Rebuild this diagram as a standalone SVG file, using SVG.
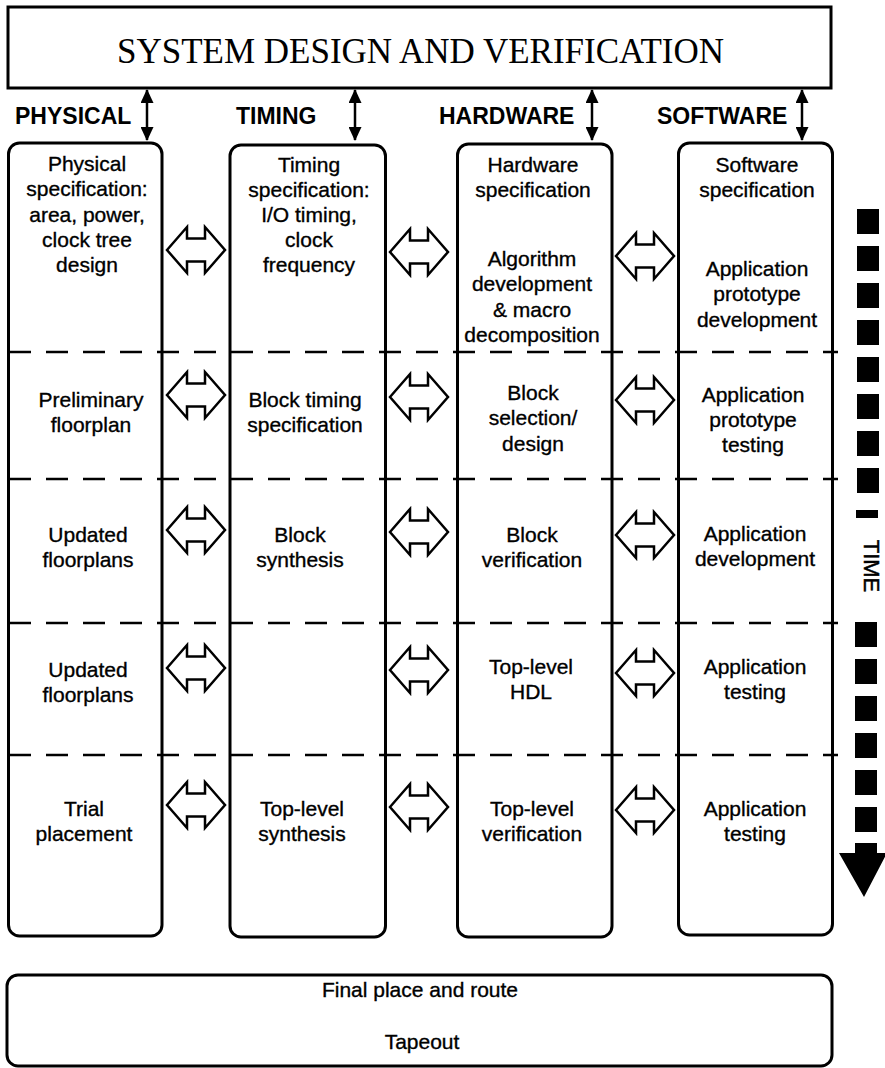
<svg xmlns="http://www.w3.org/2000/svg" xmlns:xlink="http://www.w3.org/1999/xlink" width="885" height="1068" viewBox="0 0 885 1068">
  <style>
    .box { fill: #fff; stroke: #000; stroke-width: 3; }
    .col { fill: #fff; stroke: #000; stroke-width: 3; }
    .dash { stroke: #000; stroke-width: 2.5; stroke-dasharray: 22 15; fill: none; }
    .vlink { stroke: #000; stroke-width: 2.5; fill: none; }
    .t { font-family: "Liberation Sans", Arial, sans-serif; font-size: 21px; fill: #000; stroke: #000; stroke-width: 0.35; text-anchor: middle; }
    .head { font-family: "Liberation Sans", Arial, sans-serif; font-size: 23px; font-weight: bold; fill: #000; }
    .title { font-family: "Liberation Serif", "Times New Roman", serif; font-size: 35px; fill: #000; text-anchor: middle; }
    .dbl { fill: #fff; stroke: #000; stroke-width: 2.5; stroke-linejoin: miter; }
    .sq { fill: #000; }
  </style>
  <defs>
    <!-- hollow two-way block arrow, centred on the origin -->
    <path id="dbl" class="dbl" d="M-29,0 L-9,-23 L-9,-11.5 L9,-11.5 L9,-23 L29,0 L9,23 L9,11.5 L-9,11.5 L-9,23 Z"/>
    <marker id="ah" viewBox="0 0 14 13" refX="13" refY="6.5" markerWidth="14" markerHeight="13" markerUnits="userSpaceOnUse" orient="auto-start-reverse">
      <path d="M0,0 L14,6.5 L0,13 Z" fill="#000"/>
    </marker>
  </defs>

  <!-- top system box -->
  <g id="system">
    <rect class="box" x="8" y="7" width="823" height="81"/>
    <text class="title" x="420.5" y="63">SYSTEM DESIGN AND VERIFICATION</text>
  </g>

  <!-- column headings -->
  <g id="headings">
    <text class="head" x="15" y="124">PHYSICAL</text>
    <text class="head" x="236" y="124">TIMING</text>
    <text class="head" x="439" y="124">HARDWARE</text>
    <text class="head" x="657" y="124">SOFTWARE</text>
  </g>

  <!-- columns -->
  <g id="physical">
    <rect class="col" x="8.5" y="143" width="153.5" height="793" rx="11"/>
    <text class="t" x="87" y="171">Physical</text>
    <text class="t" x="87" y="196">specification:</text>
    <text class="t" x="87" y="222">area, power,</text>
    <text class="t" x="87" y="247">clock tree</text>
    <text class="t" x="87" y="272">design</text>
    <text class="t" x="91" y="407">Preliminary</text>
    <text class="t" x="91" y="432">floorplan</text>
    <text class="t" x="88" y="542">Updated</text>
    <text class="t" x="88" y="567">floorplans</text>
    <text class="t" x="88" y="677">Updated</text>
    <text class="t" x="88" y="702">floorplans</text>
    <text class="t" x="84" y="816">Trial</text>
    <text class="t" x="84" y="841">placement</text>
  </g>

  <g id="timing">
    <rect class="col" x="230" y="145" width="155.5" height="792" rx="11"/>
    <text class="t" x="309" y="172">Timing</text>
    <text class="t" x="309" y="197">specification:</text>
    <text class="t" x="309" y="222">I/O timing,</text>
    <text class="t" x="309" y="247">clock</text>
    <text class="t" x="309" y="272">frequency</text>
    <text class="t" x="305" y="407">Block timing</text>
    <text class="t" x="305" y="432">specification</text>
    <text class="t" x="300" y="542">Block</text>
    <text class="t" x="300" y="567">synthesis</text>
    <text class="t" x="302" y="816">Top-level</text>
    <text class="t" x="302" y="841">synthesis</text>
  </g>

  <g id="hardware">
    <rect class="col" x="457.5" y="144" width="154.5" height="793" rx="11"/>
    <text class="t" x="533" y="172">Hardware</text>
    <text class="t" x="533" y="197">specification</text>
    <text class="t" x="532" y="266">Algorithm</text>
    <text class="t" x="532" y="291">development</text>
    <text class="t" x="532" y="317">&amp; macro</text>
    <text class="t" x="532" y="342">decomposition</text>
    <text class="t" x="533" y="400">Block</text>
    <text class="t" x="533" y="425">selection/</text>
    <text class="t" x="533" y="451">design</text>
    <text class="t" x="532" y="542">Block</text>
    <text class="t" x="532" y="567">verification</text>
    <text class="t" x="531" y="674">Top-level</text>
    <text class="t" x="531" y="699">HDL</text>
    <text class="t" x="532" y="816">Top-level</text>
    <text class="t" x="532" y="841">verification</text>
  </g>

  <g id="software">
    <rect class="col" x="678.5" y="143" width="154" height="792" rx="11"/>
    <text class="t" x="757" y="172">Software</text>
    <text class="t" x="757" y="197">specification</text>
    <text class="t" x="757" y="276">Application</text>
    <text class="t" x="757" y="301">prototype</text>
    <text class="t" x="757" y="327">development</text>
    <text class="t" x="753" y="402">Application</text>
    <text class="t" x="753" y="427">prototype</text>
    <text class="t" x="753" y="452">testing</text>
    <text class="t" x="755" y="541">Application</text>
    <text class="t" x="755" y="566">development</text>
    <text class="t" x="755" y="674">Application</text>
    <text class="t" x="755" y="699">testing</text>
    <text class="t" x="755" y="816">Application</text>
    <text class="t" x="755" y="841">testing</text>
  </g>

  <!-- phase separators -->
  <g id="phases">
    <line class="dash" x1="9" y1="352" x2="838" y2="352"/>
    <line class="dash" x1="9" y1="479" x2="838" y2="479"/>
    <line class="dash" x1="9" y1="623" x2="838" y2="623"/>
    <line class="dash" x1="9" y1="755" x2="838" y2="755"/>
  </g>

  <!-- connectors -->
  <g id="connectors">
    <line class="vlink" x1="147" y1="90" x2="147" y2="140" marker-start="url(#ah)" marker-end="url(#ah)"/>
    <line class="vlink" x1="355" y1="90" x2="355" y2="140" marker-start="url(#ah)" marker-end="url(#ah)"/>
    <line class="vlink" x1="592" y1="90" x2="592" y2="140" marker-start="url(#ah)" marker-end="url(#ah)"/>
    <line class="vlink" x1="802" y1="90" x2="802" y2="140" marker-start="url(#ah)" marker-end="url(#ah)"/>

    <use xlink:href="#dbl" x="196" y="250"/>
    <use xlink:href="#dbl" x="419" y="252"/>
    <use xlink:href="#dbl" x="645" y="256"/>
    <use xlink:href="#dbl" x="196" y="395"/>
    <use xlink:href="#dbl" x="419" y="397"/>
    <use xlink:href="#dbl" x="645" y="400"/>
    <use xlink:href="#dbl" x="196" y="530"/>
    <use xlink:href="#dbl" x="419" y="532"/>
    <use xlink:href="#dbl" x="645" y="535"/>
    <use xlink:href="#dbl" x="196" y="668"/>
    <use xlink:href="#dbl" x="419" y="670"/>
    <use xlink:href="#dbl" x="645" y="673"/>
    <use xlink:href="#dbl" x="196" y="805"/>
    <use xlink:href="#dbl" x="419" y="807"/>
    <use xlink:href="#dbl" x="645" y="810"/>
  </g>

  <!-- time axis -->
  <g id="time">
    <rect class="sq" x="857" y="209" width="22" height="25"/>
    <rect class="sq" x="857" y="246" width="22" height="25"/>
    <rect class="sq" x="857" y="283" width="22" height="25"/>
    <rect class="sq" x="857" y="320" width="22" height="25"/>
    <rect class="sq" x="857" y="357" width="22" height="25"/>
    <rect class="sq" x="857" y="394" width="22" height="25"/>
    <rect class="sq" x="857" y="431" width="22" height="25"/>
    <rect class="sq" x="857" y="468" width="22" height="25"/>
    <rect class="sq" x="856" y="510" width="22" height="8"/>
    <text transform="translate(864,566) rotate(90)" font-family="Liberation Sans, Arial, sans-serif" font-size="22" stroke="#000" stroke-width="0.5" text-anchor="middle">TIME</text>
    <rect class="sq" x="855" y="622" width="22" height="25"/>
    <rect class="sq" x="855" y="659" width="22" height="25"/>
    <rect class="sq" x="855" y="696" width="22" height="25"/>
    <rect class="sq" x="855" y="733" width="22" height="25"/>
    <rect class="sq" x="855" y="770" width="22" height="25"/>
    <rect class="sq" x="855" y="807" width="22" height="25"/>
    <path class="sq" d="M855,843 L877,843 L877,853 L887,853 L864,897 L839,853 L855,853 Z"/>
  </g>

  <!-- final stage -->
  <g id="final">
    <rect class="box" x="7" y="975" width="825" height="91" rx="11" stroke-width="2.5"/>
    <text class="t" x="420" y="997">Final place and route</text>
    <text class="t" x="422" y="1049">Tapeout</text>
  </g>
</svg>
